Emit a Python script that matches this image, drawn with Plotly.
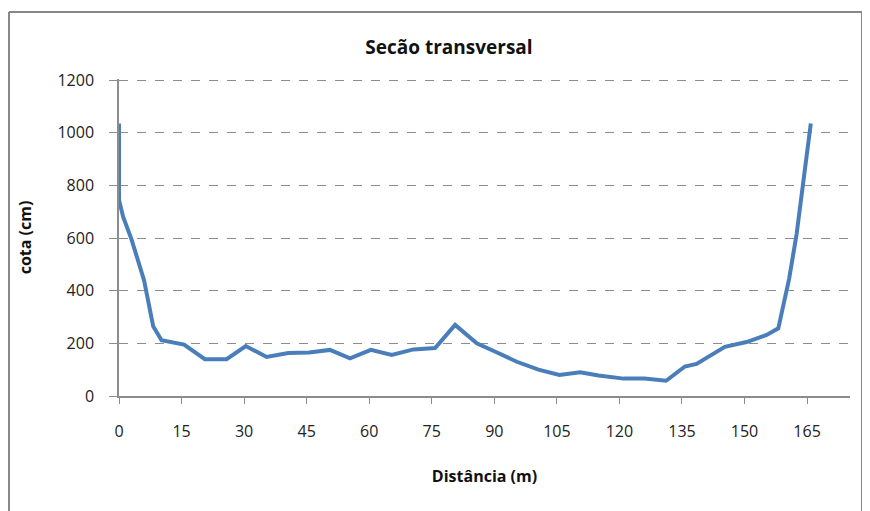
"""Cross-section profile chart."""

import plotly.graph_objects as go

# distance along the section (m) and bed elevation (cm)
distancia = [0, 0, 1, 3, 6, 8.2, 10.2, 15.6, 20.6, 25.8, 30.4, 35.4, 40.6, 45.6, 50.6,
             55.4, 60.4, 65.4, 70.6, 75.8, 80.6, 85.8, 90, 95.4, 100.6, 105.6, 110.6,
             115, 121, 126, 131.2, 135.7, 138.5, 142, 145.3, 150.5, 155.3, 158.1,
             160.7, 162.5, 163.7, 165.3, 165.9]
cota = [1035, 745, 680, 595, 440, 265, 212, 195, 140, 140, 190, 148, 163, 165, 175,
        143, 175, 156, 177, 182, 270, 200, 170, 130, 100, 80, 90,
        78, 66, 66, 58, 112, 122, 155, 187, 205, 232, 257,
        445, 615, 757, 947, 1035]

x_ticks = list(range(0, 166, 15))
y_ticks = list(range(0, 1201, 200))

FONT = "Open Sans"
GRAY = "#8c8c8c"
BORDER = "#888"

fig = go.Figure(
    go.Scatter(
        x=distancia,
        y=cota,
        mode="lines",
        line=dict(color="#4a7ebb", width=4),
        showlegend=False,
    )
)

# the page body adds an 8 px offset, so the figure positions are shifted back by 8
W, H = 870, 511
L, R, T, B = 111, 28, 71, 123
pw, ph = W - L - R, H - T - B


def px_x(v):
    return (v - L) / pw


def px_y(v):
    return (H - B - v) / ph


fig.update_layout(
    width=W,
    height=H,
    paper_bgcolor="white",
    plot_bgcolor="white",
    margin=dict(l=L, r=R, t=T, b=B),
    font=dict(family=FONT, size=16, color="#222"),
    title=dict(
        text="<b>Secão transversal</b>",
        x=441 / W,
        xanchor="center",
        xref="container",
        y=1 - 39 / H,
        yanchor="middle",
        yref="container",
        font=dict(family=FONT, size=19, color="#111"),
    ),
    shapes=[
        dict(type="line", xref="paper", yref="paper", x0=px_x(1), x1=px_x(1), y0=px_y(4), y1=px_y(H + 20),
             line=dict(color=BORDER, width=2)),
        dict(type="line", xref="paper", yref="paper", x0=px_x(1), x1=px_x(854), y0=px_y(4), y1=px_y(4),
             line=dict(color=BORDER, width=2)),
        dict(type="line", xref="paper", yref="paper", x0=px_x(854), x1=px_x(854), y0=px_y(4), y1=px_y(H + 20),
             line=dict(color=BORDER, width=2)),
    ],
)

fig.update_xaxes(
    range=[0, 175.3],
    tickvals=x_ticks,
    showgrid=False,
    zeroline=False,
    showline=True,
    linecolor=GRAY,
    linewidth=1.5,
    ticks="outside",
    ticklen=6,
    tickcolor=GRAY,
    ticklabelstandoff=14,
    tickfont=dict(family=FONT, size=16, color="#222"),
    title=dict(text="<b>Distância (m)</b>", font=dict(family=FONT, size=16, color="#111"), standoff=30),
)

fig.update_yaxes(
    range=[0, 1204],
    tickvals=y_ticks,
    showgrid=True,
    gridcolor=GRAY,
    griddash="dash",
    gridwidth=1,
    zeroline=False,
    showline=True,
    linecolor=GRAY,
    linewidth=1.5,
    ticks="outside",
    ticklen=8,
    tickcolor=GRAY,
    ticklabelstandoff=12,
    tickfont=dict(family=FONT, size=16, color="#222"),
    title=dict(text="<b>cota (cm)</b>", font=dict(family=FONT, size=16, color="#111"), standoff=22),
)

fig.write_html("out.html")
